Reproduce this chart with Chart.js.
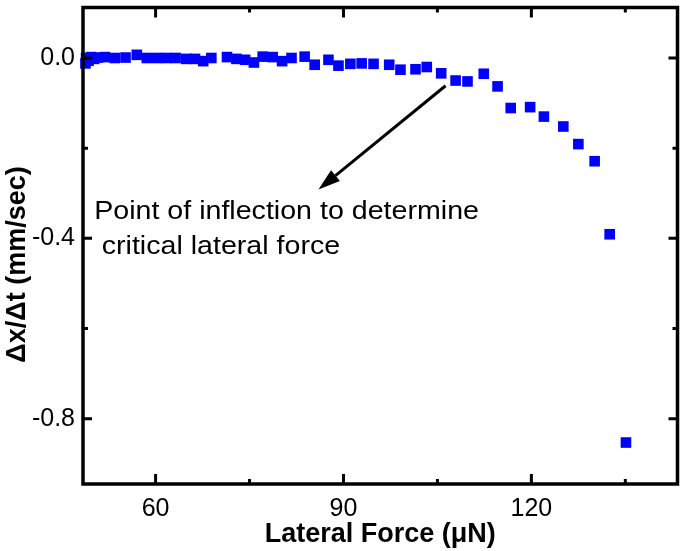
<!DOCTYPE html>
<html>
<head>
<meta charset="utf-8">
<script src="https://cdn.jsdelivr.net/npm/chart.js@4.4.1/dist/chart.umd.min.js"></script>
<style>
  html, body { margin: 0; padding: 0; background: #fff; }
  #wrap { width: 685px; height: 551px; }
</style>
</head>
<body>
<div id="wrap"><canvas id="myChart" width="685" height="551"></canvas></div>
<script>
// lateral force (uN) and sliding velocity change (mm/sec)
var forceX = [48.8, 48.9, 49.3, 49.7, 50.2, 50.8, 51.9, 53.5, 55.2, 57.0,
              58.6, 60.2, 61.7, 63.2, 64.9, 66.3, 67.6, 68.9, 71.4, 72.9,
              74.3, 75.7, 77.1, 78.7, 80.2, 81.7, 83.8, 85.4, 87.6, 89.2,
              91.1, 92.9, 94.8, 97.3, 99.1, 101.5, 103.3, 105.6, 107.9, 109.8,
              112.4, 114.6, 116.7, 119.8, 122.0, 125.1, 127.5, 130.1, 132.5, 135.1];
var velY = [-0.012, 0.0, -0.006, 0.002, -0.002, 0.001, 0.002, 0.0, 0.001, 0.007,
            0.0, 0.0, 0.0, 0.0, -0.002, -0.002, -0.007, 0.0, 0.002, -0.002,
            -0.004, -0.010, 0.003, 0.002, -0.007, 0.0, 0.003, -0.015, -0.004, -0.017,
            -0.013, -0.012, -0.013, -0.015, -0.026, -0.025, -0.020, -0.034, -0.050, -0.052,
            -0.035, -0.063, -0.111, -0.109, -0.130, -0.152, -0.191, -0.229, -0.391, -0.853];

var xTicks = [60, 90, 120];
var xMinorTicks = [75, 105, 135];
var yTicks = [0.0, -0.4, -0.8];
var yMinorTicks = [-0.2, -0.6];

var yTitle = '\u0394x/\u0394t (mm/sec)';
var noteLines = ['Point of inflection to determine', 'critical lateral force'];

var points = forceX.map(function (x, i) { return { x: x, y: velY[i] }; });

var FONT = "'Liberation Sans', Arial, sans-serif";

// frame, inward ticks, y title, arrow and note
var framePlugin = {
    id: 'frame',
    afterDraw: function (chart) {
        var ctx = chart.ctx;
        var a = chart.chartArea;
        var xs = chart.scales.x, ys = chart.scales.y;
        ctx.save();
        ctx.strokeStyle = '#000';
        ctx.lineWidth = 3.5;
        ctx.strokeRect(a.left, a.top, a.right - a.left, a.bottom - a.top);

        ctx.lineWidth = 3;
        function vt(v, len) {
            var px = xs.getPixelForValue(v);
            ctx.beginPath();
            ctx.moveTo(px, a.bottom); ctx.lineTo(px, a.bottom - len);
            ctx.moveTo(px, a.top); ctx.lineTo(px, a.top + len);
            ctx.stroke();
        }
        function ht(v, len) {
            var py = ys.getPixelForValue(v);
            ctx.beginPath();
            ctx.moveTo(a.left, py); ctx.lineTo(a.left + len, py);
            ctx.moveTo(a.right, py); ctx.lineTo(a.right - len, py);
            ctx.stroke();
        }
        xTicks.forEach(function (v) { vt(v, 10); });
        xMinorTicks.forEach(function (v) { vt(v, 5); });
        yTicks.forEach(function (v) { ht(v, 9); });
        yMinorTicks.forEach(function (v) { ht(v, 5); });

        // y axis title, a bit below the middle like the original
        ctx.fillStyle = '#000';
        ctx.save();
        ctx.translate(25, ys.getPixelForValue(-0.458));
        ctx.rotate(-Math.PI / 2);
        ctx.font = 'bold 27px ' + FONT;
        ctx.textAlign = 'center';
        ctx.textBaseline = 'alphabetic';
        ctx.fillText(yTitle, 0, 0);
        ctx.restore();

        // arrow
        var x0 = xs.getPixelForValue(106.3), y0 = ys.getPixelForValue(-0.0615);
        var x1 = xs.getPixelForValue(86.0), y1 = ys.getPixelForValue(-0.292);
        var ang = Math.atan2(y1 - y0, x1 - x0);
        var hl = 22, hw = 7;
        var bx = x1 - hl * Math.cos(ang), by = y1 - hl * Math.sin(ang);
        ctx.lineWidth = 3;
        ctx.beginPath();
        ctx.moveTo(x0, y0); ctx.lineTo(bx, by);
        ctx.stroke();
        ctx.beginPath();
        ctx.moveTo(x1, y1);
        ctx.lineTo(bx + hw * Math.sin(ang), by - hw * Math.cos(ang));
        ctx.lineTo(bx - hw * Math.sin(ang), by + hw * Math.cos(ang));
        ctx.closePath();
        ctx.fill();

        // note text
        ctx.font = '26px ' + FONT;
        ctx.textBaseline = 'alphabetic';
        ctx.textAlign = 'left';
        var pos = [[50.2, -0.358], [51.4, -0.435]];
        noteLines.forEach(function (t, i) {
            ctx.save();
            ctx.translate(xs.getPixelForValue(pos[i][0]), ys.getPixelForValue(pos[i][1]));
            ctx.scale(1.1, 1);
            ctx.fillText(t, 0, 0);
            ctx.restore();
        });
        ctx.restore();
    }
};

var ctx = document.getElementById('myChart').getContext('2d');
var myChart = new Chart(ctx, {
    type: 'scatter',
    data: {
        datasets: [{
            data: points,
            pointStyle: 'rect',
            pointRadius: 7.5,
            pointHoverRadius: 7.5,
            backgroundColor: '#0000ff',
            borderColor: '#0000ff',
            borderWidth: 0,
            clip: false
        }]
    },
    options: {
        responsive: false,
        animation: false,
        layout: { padding: { top: 3, right: 4, left: 0, bottom: 0 } },
        plugins: { legend: { display: false }, tooltip: { enabled: false } },
        scales: {
            x: {
                type: 'linear',
                min: 48.41,
                max: 143.33,
                border: { display: false },
                grid: { display: false, drawTicks: false },
                afterBuildTicks: function (s) { s.ticks = xTicks.map(function (v) { return { value: v }; }); },
                afterFit: function (s) { s.height = 67; s.paddingLeft = 0; s.paddingRight = 0; },
                ticks: {
                    color: '#000',
                    padding: 10,
                    font: { family: FONT, size: 25 },
                    callback: function (v) { return String(v); }
                },
                title: {
                    display: true,
                    text: 'Lateral Force (\u03bcN)',
                    color: '#000',
                    padding: { top: 0, bottom: 0 },
                    font: { family: FONT, size: 27, weight: 'bold', lineHeight: 1.2 }
                }
            },
            y: {
                type: 'linear',
                min: -0.945,
                max: 0.112,
                border: { display: false },
                grid: { display: false, drawTicks: false },
                afterBuildTicks: function (s) { s.ticks = yTicks.map(function (v) { return { value: v }; }); },
                afterFit: function (s) { s.width = 83; s.paddingTop = 0; s.paddingBottom = 0; },
                ticks: {
                    color: '#000',
                    padding: 8,
                    font: { family: FONT, size: 25 },
                    callback: function (v) { return Number(v).toFixed(1); }
                }
            }
        }
    },
    plugins: [framePlugin]
});
</script>
</body>
</html>
